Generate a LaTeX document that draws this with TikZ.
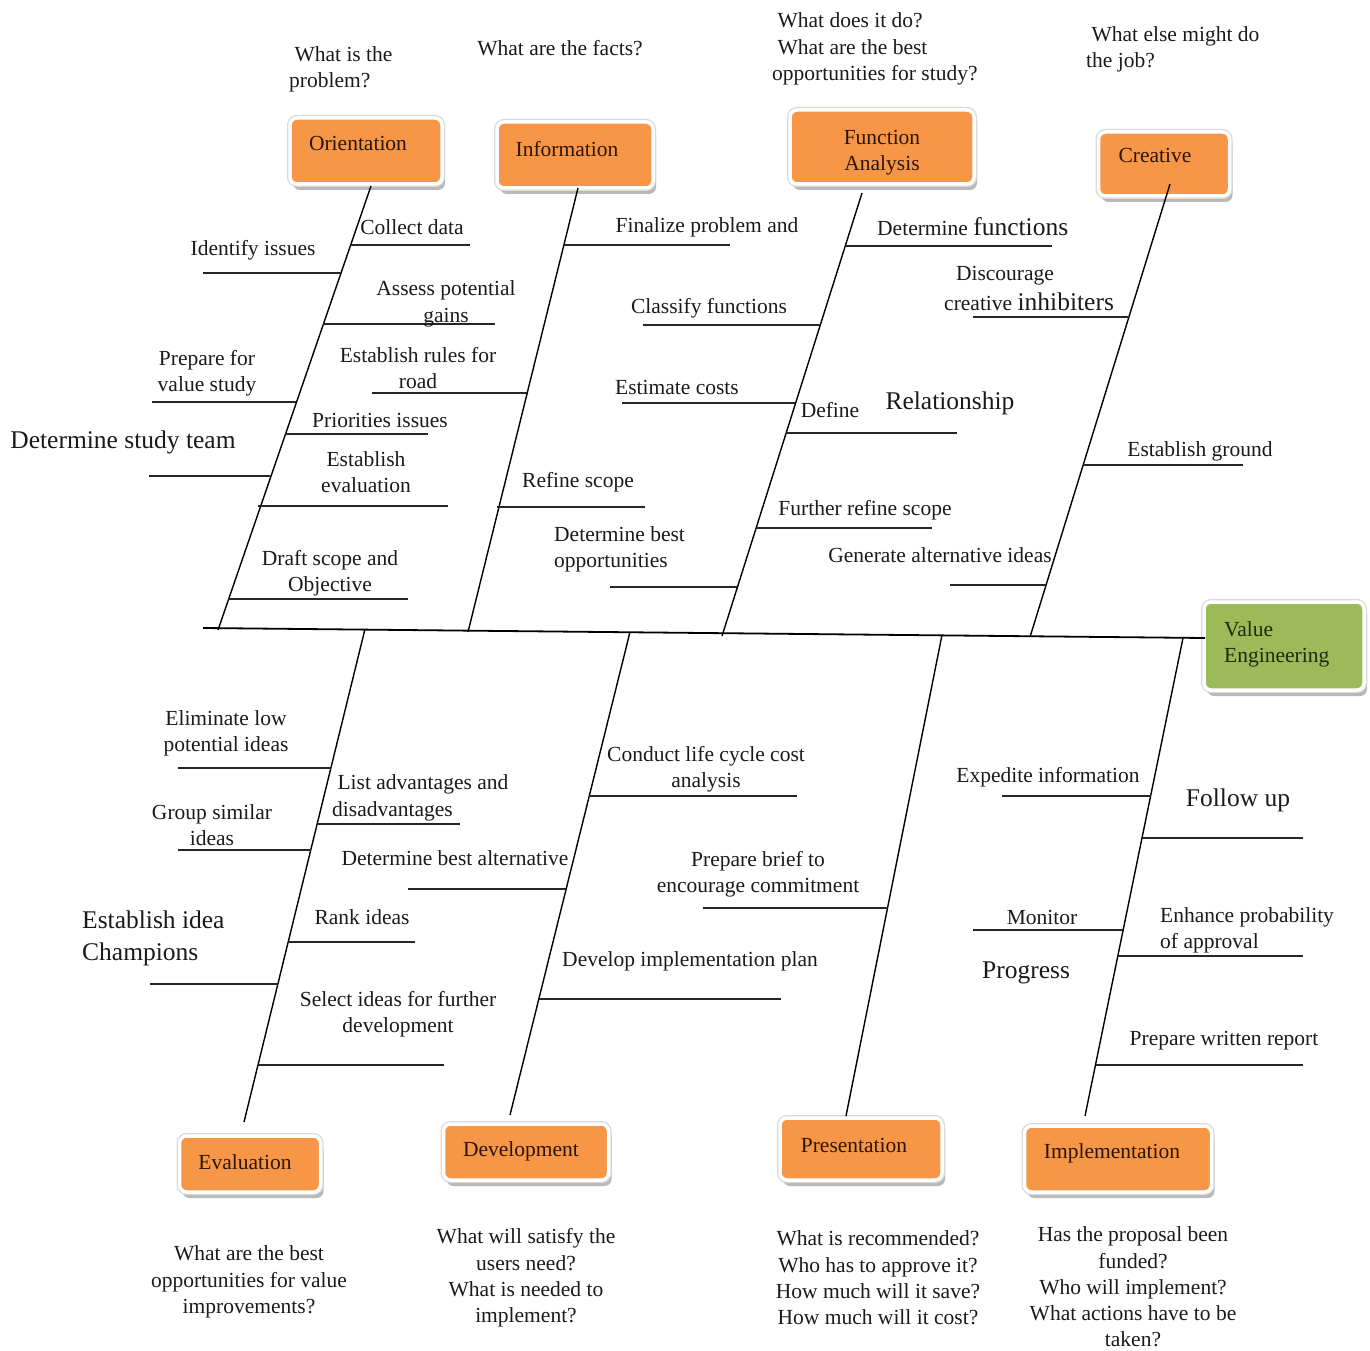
\documentclass[tikz,border=0pt]{standalone}
\usepackage{fontspec}
\setmainfont{Liberation Serif}
\usetikzlibrary{shadows}
\definecolor{veorange}{HTML}{F79646}
\definecolor{vegreen}{HTML}{9BBB59}
\definecolor{boxtxt}{HTML}{2A1606}
\definecolor{vetxt}{HTML}{1E2A0E}
\definecolor{inktxt}{HTML}{1A1A1A}
\newcommand\vefn{\fontsize{21.5}{26.3}\selectfont}
\newcommand\vefb{\fontsize{25.5}{32}\selectfont}
\newcommand\ribline[4]{\coordinate (#1-a) at (#2,#4); \coordinate (#1-b) at (#3,#4); \draw[rib] (#1-a) -- (#1-b);}
\tikzset{
  phase/.style={rectangle, rounded corners=7pt, inner sep=0pt,
    drop shadow={shadow xshift=3pt, shadow yshift=-6pt, fill=black!55, opacity=0.5},
    preaction={draw=black!15, line width=6pt},
    fill=veorange, draw=white, line width=3.5pt},
  boxlbl/.style={font=\vefn, text=boxtxt, inner sep=0pt, align=center, yshift=-1.5pt},
  lbl/.style={font=\vefn, text=inktxt, inner sep=0pt, align=center, yshift=-2pt},
  lblb/.style={font=\vefb, text=inktxt, inner sep=0pt, align=center, yshift=-2pt},
  rib/.style={draw=black!85, line width=1.2pt},
  bone/.style={draw=black, line width=1.4pt},
  spine/.style={draw=black, line width=1.8pt}
}
\begin{document}
\begin{tikzpicture}[x=1pt,y=-1pt]
\useasboundingbox (0,0) rectangle (1370,1351);

% ---------- phase boxes ----------
\node[phase, minimum width=152pt, minimum height=66pt] (orient) at (366,151) {};
\node[phase, minimum width=156pt, minimum height=66pt] (info) at (575,155) {};
\node[phase, minimum width=184pt, minimum height=74pt] (func) at (882,147) {};
\node[phase, minimum width=131pt, minimum height=64pt] (creat) at (1164,164) {};
\node[phase, fill=vegreen, minimum width=160pt, minimum height=88pt] (ve) at (1284,646) {};
\node[phase, minimum width=141pt, minimum height=56pt] (eval) at (250,1164) {};
\node[phase, minimum width=165pt, minimum height=56pt] (dev) at (526,1152) {};
\node[phase, minimum width=162pt, minimum height=62pt] (pres) at (861,1149) {};
\node[phase, minimum width=187pt, minimum height=66pt] (impl) at (1118,1159) {};

\node[boxlbl] (orient-t) at (358,142) {Orientation};
\node[boxlbl] (info-t) at (567,148) {Information};
\node[boxlbl] (func-t) at (882,151) {Function\\Analysis};
\node[boxlbl] (creat-t) at (1155,154) {Creative};
\node[boxlbl, text=vetxt, align=left, anchor=west] (ve-t) at (1224,643) {Value\\Engineering};
\node[boxlbl] (eval-t) at (245,1161) {Evaluation};
\node[boxlbl] (dev-t) at (521,1150) {Development};
\node[boxlbl] (pres-t) at (854,1144) {Presentation};
\node[boxlbl] (impl-t) at (1112,1152) {Implementation};

% ---------- spine and bones ----------
\coordinate (sp-l) at (203,628);
\coordinate (sp-r) at (1205,638);
\draw[spine] (sp-l) -- (sp-r);

\coordinate (o-top) at (371,186);  \coordinate (o-bot) at (218,630);
\coordinate (i-top) at (578,188);  \coordinate (i-bot) at (468,632);
\coordinate (f-top) at (862,193);  \coordinate (f-bot) at (722,636);
\coordinate (c-top) at (1170,184); \coordinate (c-bot) at (1030,637);
\coordinate (e-top) at (365,629);  \coordinate (e-bot) at (244,1122);
\coordinate (d-top) at (630,632);  \coordinate (d-bot) at (510,1115);
\coordinate (p-top) at (942,635);  \coordinate (p-bot) at (846,1116);
\coordinate (m-top) at (1183,638); \coordinate (m-bot) at (1085,1116);
\draw[bone] (o-top) -- (o-bot);
\draw[bone] (i-top) -- (i-bot);
\draw[bone] (f-top) -- (f-bot);
\draw[bone] (c-top) -- (c-bot);
\draw[bone] (e-top) -- (e-bot);
\draw[bone] (d-top) -- (d-bot);
\draw[bone] (p-top) -- (p-bot);
\draw[bone] (m-top) -- (m-bot);

% ---------- ribs (upper half) ----------
\ribline{r-collect}{351}{470}{245}
\ribline{r-identify}{203}{341}{273}
\ribline{r-assess}{323}{495}{324}
\ribline{r-rules}{372}{527}{393}
\ribline{r-prepare}{152}{296}{402}
\ribline{r-prior}{285}{428}{434}
\ribline{r-team}{149}{271}{476}
\ribline{r-evalcrit}{258}{448}{506}
\ribline{r-draft}{228}{408}{599}
\ribline{r-finalize}{564}{730}{245}
\ribline{r-classify}{643}{820}{325}
\ribline{r-estimate}{622}{795}{403}
\ribline{r-refine}{497}{645}{507}
\ribline{r-bestopp}{610}{737}{587}
\ribline{r-detfun}{845}{1052}{246}
\ribline{r-define}{786}{957}{433}
\ribline{r-further}{756}{932}{528}
\ribline{r-generate}{950}{1046}{585}
\ribline{r-discourage}{973}{1129}{317}
\ribline{r-ground}{1083}{1243}{465}

% ---------- ribs (lower half) ----------
\ribline{r-elim}{178}{331}{768}
\ribline{r-list}{317}{460}{824}
\ribline{r-group}{178}{311}{850}
\ribline{r-bestalt}{408}{566}{889}
\ribline{r-rank}{288}{415}{942}
\ribline{r-champ}{150}{278}{984}
\ribline{r-select}{258}{444}{1065}
\ribline{r-lcc}{589}{797}{796}
\ribline{r-brief}{703}{888}{908}
\ribline{r-plan}{539}{781}{999}
\ribline{r-expedite}{1002}{1151}{796}
\ribline{r-follow}{1142}{1303}{838}
\ribline{r-monitor}{973}{1123}{930}
\ribline{r-enhance}{1118}{1303}{956}
\ribline{r-report}{1096}{1303}{1065}

% ---------- top questions ----------
\node[lbl, align=left, anchor=west] (q-orient) at (289,67) {\ What is the\\problem?};
\node[lbl] (q-info) at (560,46) {What are the facts?};
\node[lbl, align=left, anchor=west] (q-func) at (772,47) {\ What does it do?\\\ What are the best\\opportunities for study?};
\node[lbl, align=left, anchor=west] (q-creat) at (1086,47) {\ What else might do\\the job?};

% ---------- upper labels ----------
\node[lbl] (t-collect) at (412,225) {Collect data};
\node[lbl] (t-identify) at (253,248) {Identify issues};
\node[lbl] (t-assess) at (446,302) {Assess potential\\gains};
\node[lbl] (t-rules) at (418,366) {Establish rules for\\road};
\node[lbl] (t-prepare) at (207,371) {Prepare for\\value study};
\node[lbl] (t-prior) at (380,418) {Priorities issues};
\node[lblb] (t-team) at (123,440) {Determine study team};
\node[lbl] (t-evalcrit) at (366,470) {Establish\\evaluation};
\node[lbl] (t-draft) at (330,571) {Draft scope and\\Objective};
\node[lbl] (t-finalize) at (707,225) {Finalize problem and};
\node[lbl] (t-classify) at (709,306) {Classify functions};
\node[lbl] (t-estimate) at (677,385) {Estimate costs};
\node[lbl] (t-refine) at (578,480) {Refine scope};
\node[lbl, align=left, anchor=west] (t-bestopp) at (554,547) {Determine best\\opportunities};
\node[lbl, anchor=base west] (t-detfun) at (877,234) {Determine {\vefb functions}};
\node[lbl] (t-discourage) at (1005,274) {Discourage};
\node[lbl, anchor=base west] (t-inhib) at (944,308) {creative {\vefb inhibiters}};
\node[lbl] (t-define) at (830,408) {Define};
\node[lblb] (t-relation) at (950,401) {Relationship};
\node[lbl] (t-further) at (865,508) {Further refine scope};
\node[lbl] (t-generate) at (940,553) {Generate alternative ideas};
\node[lbl] (t-ground) at (1200,449) {Establish ground};

% ---------- lower labels ----------
\node[lbl] (t-elim) at (226,731) {Eliminate low\\potential ideas};
\node[lbl, align=left, anchor=west] (t-list) at (332,796) {\ List advantages and\\disadvantages};
\node[lbl] (t-group) at (212,823) {Group similar\\ideas};
\node[lbl] (t-bestalt) at (455,856) {Determine best alternative};
\node[lbl] (t-rank) at (362,915) {Rank ideas};
\node[lblb, align=left, anchor=west] (t-champ) at (82,936) {Establish idea\\Champions};
\node[lbl] (t-select) at (398,1012) {Select ideas for further\\development};
\node[lbl] (t-lcc) at (706,767) {Conduct life cycle cost\\analysis};
\node[lbl] (t-brief) at (758,872) {Prepare brief to\\encourage commitment};
\node[lbl] (t-plan) at (690,959) {Develop implementation plan};
\node[lbl] (t-expedite) at (1048,775) {Expedite information};
\node[lblb] (t-follow) at (1238,798) {Follow up};
\node[lbl] (t-monitor) at (1042,915) {Monitor};
\node[lblb] (t-progress) at (1026,971) {Progress};
\node[lbl, align=left, anchor=west] (t-enhance) at (1160,928) {Enhance probability\\of approval};
\node[lbl] (t-report) at (1224,1039) {Prepare written report};

% ---------- bottom questions ----------
\node[lbl] (q-eval) at (249,1280) {What are the best\\opportunities for value\\improvements?};
\node[lbl] (q-dev) at (526,1276) {What will satisfy the\\users need?\\What is needed to\\implement?};
\node[lbl] (q-pres) at (878,1276) {What is recommended?\\Who has to approve it?\\How much will it save?\\How much will it cost?};
\node[lbl] (q-impl) at (1133,1285) {Has the proposal been\\funded?\\Who will implement?\\What actions have to be\\taken?};
\end{tikzpicture}
\end{document}
